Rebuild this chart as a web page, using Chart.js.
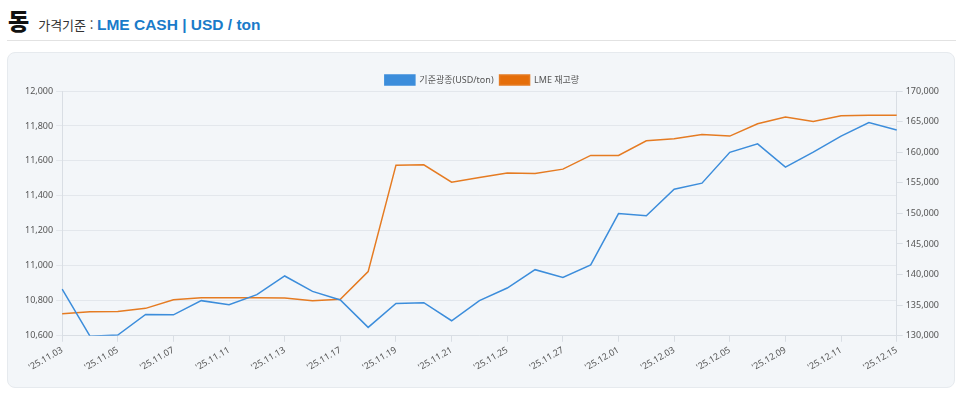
<!DOCTYPE html>
<html lang="ko">
<head>
<meta charset="utf-8">
<script src="https://cdn.jsdelivr.net/npm/chart.js@4"></script>
<style>
    body { margin: 0; background: #fff; font-family: "Noto Sans", "Noto Sans CJK KR", sans-serif; }
    .head { position: absolute; left: 8px; top: 3px; white-space: nowrap; }
    .head .metal { font-size: 23px; font-weight: 900; color: #111; font-family: "Noto Sans CJK KR", sans-serif; }
    .head .basis { font-size: 13px; color: #333; margin-left: 9px; font-family: "Noto Sans CJK KR", sans-serif; }
    .head .unit { font-size: 15.5px; font-weight: 700; color: #1a7bc9; font-family: "Liberation Sans", Arial, sans-serif; }
    .rule { position: absolute; left: 7px; top: 40px; width: 949px; height: 1px; background: #e2e2e2; }
    .card { position: absolute; left: 7px; top: 52px; width: 946px; height: 334px; background: #f3f6f9; border: 1px solid #e6eaee; border-radius: 8px; }
    .card canvas { display: block; }
</style>
</head>
<body>
<div class="head"><span class="metal">동</span><span class="basis">가격기준 : </span><span class="unit">LME CASH | USD / ton</span></div>
<div class="rule"></div>
<div class="card"><canvas id="copperChart" width="946" height="334"></canvas></div>
<script>
// Chart values
const dates = ["'25.11.03", "'25.11.04", "'25.11.05", "'25.11.06", "'25.11.07", "'25.11.10", "'25.11.11", "'25.11.12",
    "'25.11.13", "'25.11.14", "'25.11.17", "'25.11.18", "'25.11.19", "'25.11.20", "'25.11.21", "'25.11.24",
    "'25.11.25", "'25.11.26", "'25.11.27", "'25.11.28", "'25.12.01", "'25.12.02", "'25.12.03", "'25.12.04",
    "'25.12.05", "'25.12.08", "'25.12.09", "'25.12.10", "'25.12.11", "'25.12.12", "'25.12.15"];
const cashPrice = [10867, 10598, 10604, 10722, 10720, 10801, 10778, 10835, 10942, 10854, 10805, 10648, 10785, 10789, 10686, 10801,
    10873, 10978, 10934, 11005, 11299, 11286, 11438, 11473, 11649, 11698, 11565, 11650, 11742, 11819, 11777];
const lmeStock = [133600, 133930, 133980, 134480, 135890, 136220, 136220, 136220, 136170, 135730, 135950, 140480, 157880, 157940, 155100, 155870,
    156580, 156520, 157230, 159470, 159470, 161870, 162200, 162900, 162630, 164650, 165740, 165030, 165960, 166020, 166020];
const priceTicks = { min: 10600, max: 12000, step: 200 };
const stockTicks = { min: 130000, max: 170000, step: 5000 };

const tickFont = { family: "'Noto Sans', 'Noto Sans CJK KR', sans-serif", size: 9 };
const tickColor = '#555';

// pull the plot a little closer to the legend
const legendGap = {
    id: 'legendGap',
    beforeInit(chart) {
        const fit = chart.legend.fit;
        chart.legend.fit = function () {
            fit.call(this);
            this.height -= 4;
        };
    }
};

new Chart(document.getElementById('copperChart').getContext('2d'), {
    type: 'line',
    data: {
        labels: dates,
        datasets: [
            {
                label: '기준광종(USD/ton)',
                data: cashPrice,
                yAxisID: 'yPrice',
                borderColor: '#3c8ddb',
                backgroundColor: '#3c8ddb',
                borderWidth: 1.5,
                pointRadius: 0,
                tension: 0
            },
            {
                label: 'LME 재고량',
                data: lmeStock,
                yAxisID: 'yStock',
                borderColor: '#e57b22',
                backgroundColor: '#e56e0a',
                borderWidth: 1.5,
                pointRadius: 0,
                tension: 0
            }
        ]
    },
    plugins: [legendGap],
    options: {
        responsive: false,
        animation: false,
        layout: { padding: { left: 14, right: 12, top: 16, bottom: 11 } },
        plugins: {
            legend: {
                position: 'top',
                labels: { boxWidth: 30, boxHeight: 10, padding: 6, color: '#555', font: tickFont }
            },
            tooltip: { enabled: false }
        },
        scales: {
            x: {
                grid: { drawOnChartArea: false, drawTicks: true, tickLength: 6, color: '#d9dee4' },
                border: { color: '#d9dee4' },
                ticks: { font: tickFont, color: tickColor, minRotation: 30, maxRotation: 30, autoSkip: true, maxTicksLimit: 16, padding: 3 }
            },
            yPrice: {
                position: 'left',
                min: priceTicks.min,
                max: priceTicks.max,
                grid: { color: '#e3e7ec', tickLength: 6 },
                border: { color: '#d9dee4' },
                ticks: { stepSize: priceTicks.step, font: tickFont, color: tickColor, padding: 3,
                    callback: v => v.toLocaleString('en-US') }
            },
            yStock: {
                position: 'right',
                min: stockTicks.min,
                max: stockTicks.max,
                grid: { drawOnChartArea: false, tickLength: 6, color: '#d9dee4' },
                border: { color: '#d9dee4' },
                ticks: { stepSize: stockTicks.step, font: tickFont, color: tickColor, padding: 3,
                    callback: v => v.toLocaleString('en-US') }
            }
        }
    }
});
</script>
</body>
</html>
